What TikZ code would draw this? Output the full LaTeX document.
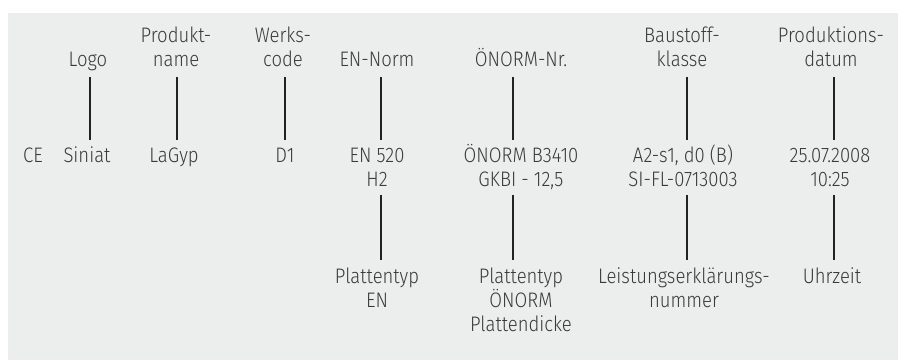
\documentclass[tikz,border=0pt]{standalone}
\usepackage{fontspec}
\setmainfont{Fira Sans}[UprightFont=* Light, FakeStretch=0.88]
\definecolor{bg}{HTML}{ECEDED}
\definecolor{tx}{HTML}{3A3A3A}
\definecolor{ln}{HTML}{222222}
\newcommand\ms{\vphantom{Äg}}
\begin{document}
\begin{tikzpicture}[x=1pt,y=-1pt,
  lbl/.style={inner sep=0pt, align=center, text=tx, font=\fontsize{21}{24}\selectfont},
  toplbl/.style={lbl, anchor=south},
  midlbl/.style={lbl, anchor=north},
  botlbl/.style={lbl, anchor=north},
  conn/.style={draw=ln, line width=1.3pt}]
\useasboundingbox (0,0) rectangle (898,360);
\fill[bg] (8,13) rectangle (898,360);
% top labels
\def\ty{71}
\node[toplbl] (t1) at (88,\ty) {\ms Logo};
\node[toplbl] (t2) at (176,\ty) {\ms Produkt-\\\ms name};
\node[toplbl] (t3) at (283,\ty) {\ms Werks-\\\ms code};
\node[toplbl] (t4) at (377,\ty) {\ms EN-Norm};
\node[toplbl] (t5) at (521,\ty) {\ms ÖNORM-Nr.};
\node[toplbl] (t6) at (682,\ty) {\ms Baustoff-\\\ms klasse};
\node[toplbl] (t7) at (831,\ty) {\ms Produktions-\\\ms datum};
% middle row
\def\my{144}
\node[midlbl] (ce) at (33,\my) {\ms CE};
\node[midlbl] (m1) at (87,\my) {\ms Siniat};
\node[midlbl] (m2) at (174,\my) {\ms LaGyp};
\node[midlbl] (m3) at (285,\my) {\ms D1};
\node[midlbl] (m4) at (377,\my) {\ms EN 520\\\ms H2};
\node[midlbl] (m5) at (521,\my) {\ms ÖNORM B3410\\\ms GKBI - 12,5};
\node[midlbl] (m6) at (683,\my) {\ms A2-s1, d0 (B)\\\ms SI-FL-0713003};
\node[midlbl] (m7) at (830,\my) {\ms 25.07.2008\\\ms 10:25};
% bottom row
\def\by{265}
\node[botlbl] (b4) at (377,\by) {\ms Plattentyp\\\ms EN};
\node[botlbl] (b5) at (521,\by) {\ms Plattentyp\\\ms ÖNORM\\\ms Plattendicke};
\node[botlbl] (b6) at (684,\by) {\ms Leistungserklärungs-\\\ms nummer};
\node[botlbl] (b7) at (832,\by) {\ms Uhrzeit};
% connector x positions
\coordinate (x1) at (90,0);
\coordinate (x2) at (177,0);
\coordinate (x3) at (285,0);
\coordinate (x4) at (381,0);
\coordinate (x5) at (513,0);
\coordinate (x6) at (687,0);
\coordinate (x7) at (834,0);
\foreach \i in {1,...,7}{
  \draw[conn] ([yshift=-6pt]x\i |- t\i.south) -- ([yshift=4pt]x\i |- m\i.north);
}
\foreach \i in {4,...,7}{
  \draw[conn] ([yshift=-4pt]x\i |- m\i.south) -- ([yshift=5pt]x\i |- b\i.north);
}
\end{tikzpicture}
\end{document}
